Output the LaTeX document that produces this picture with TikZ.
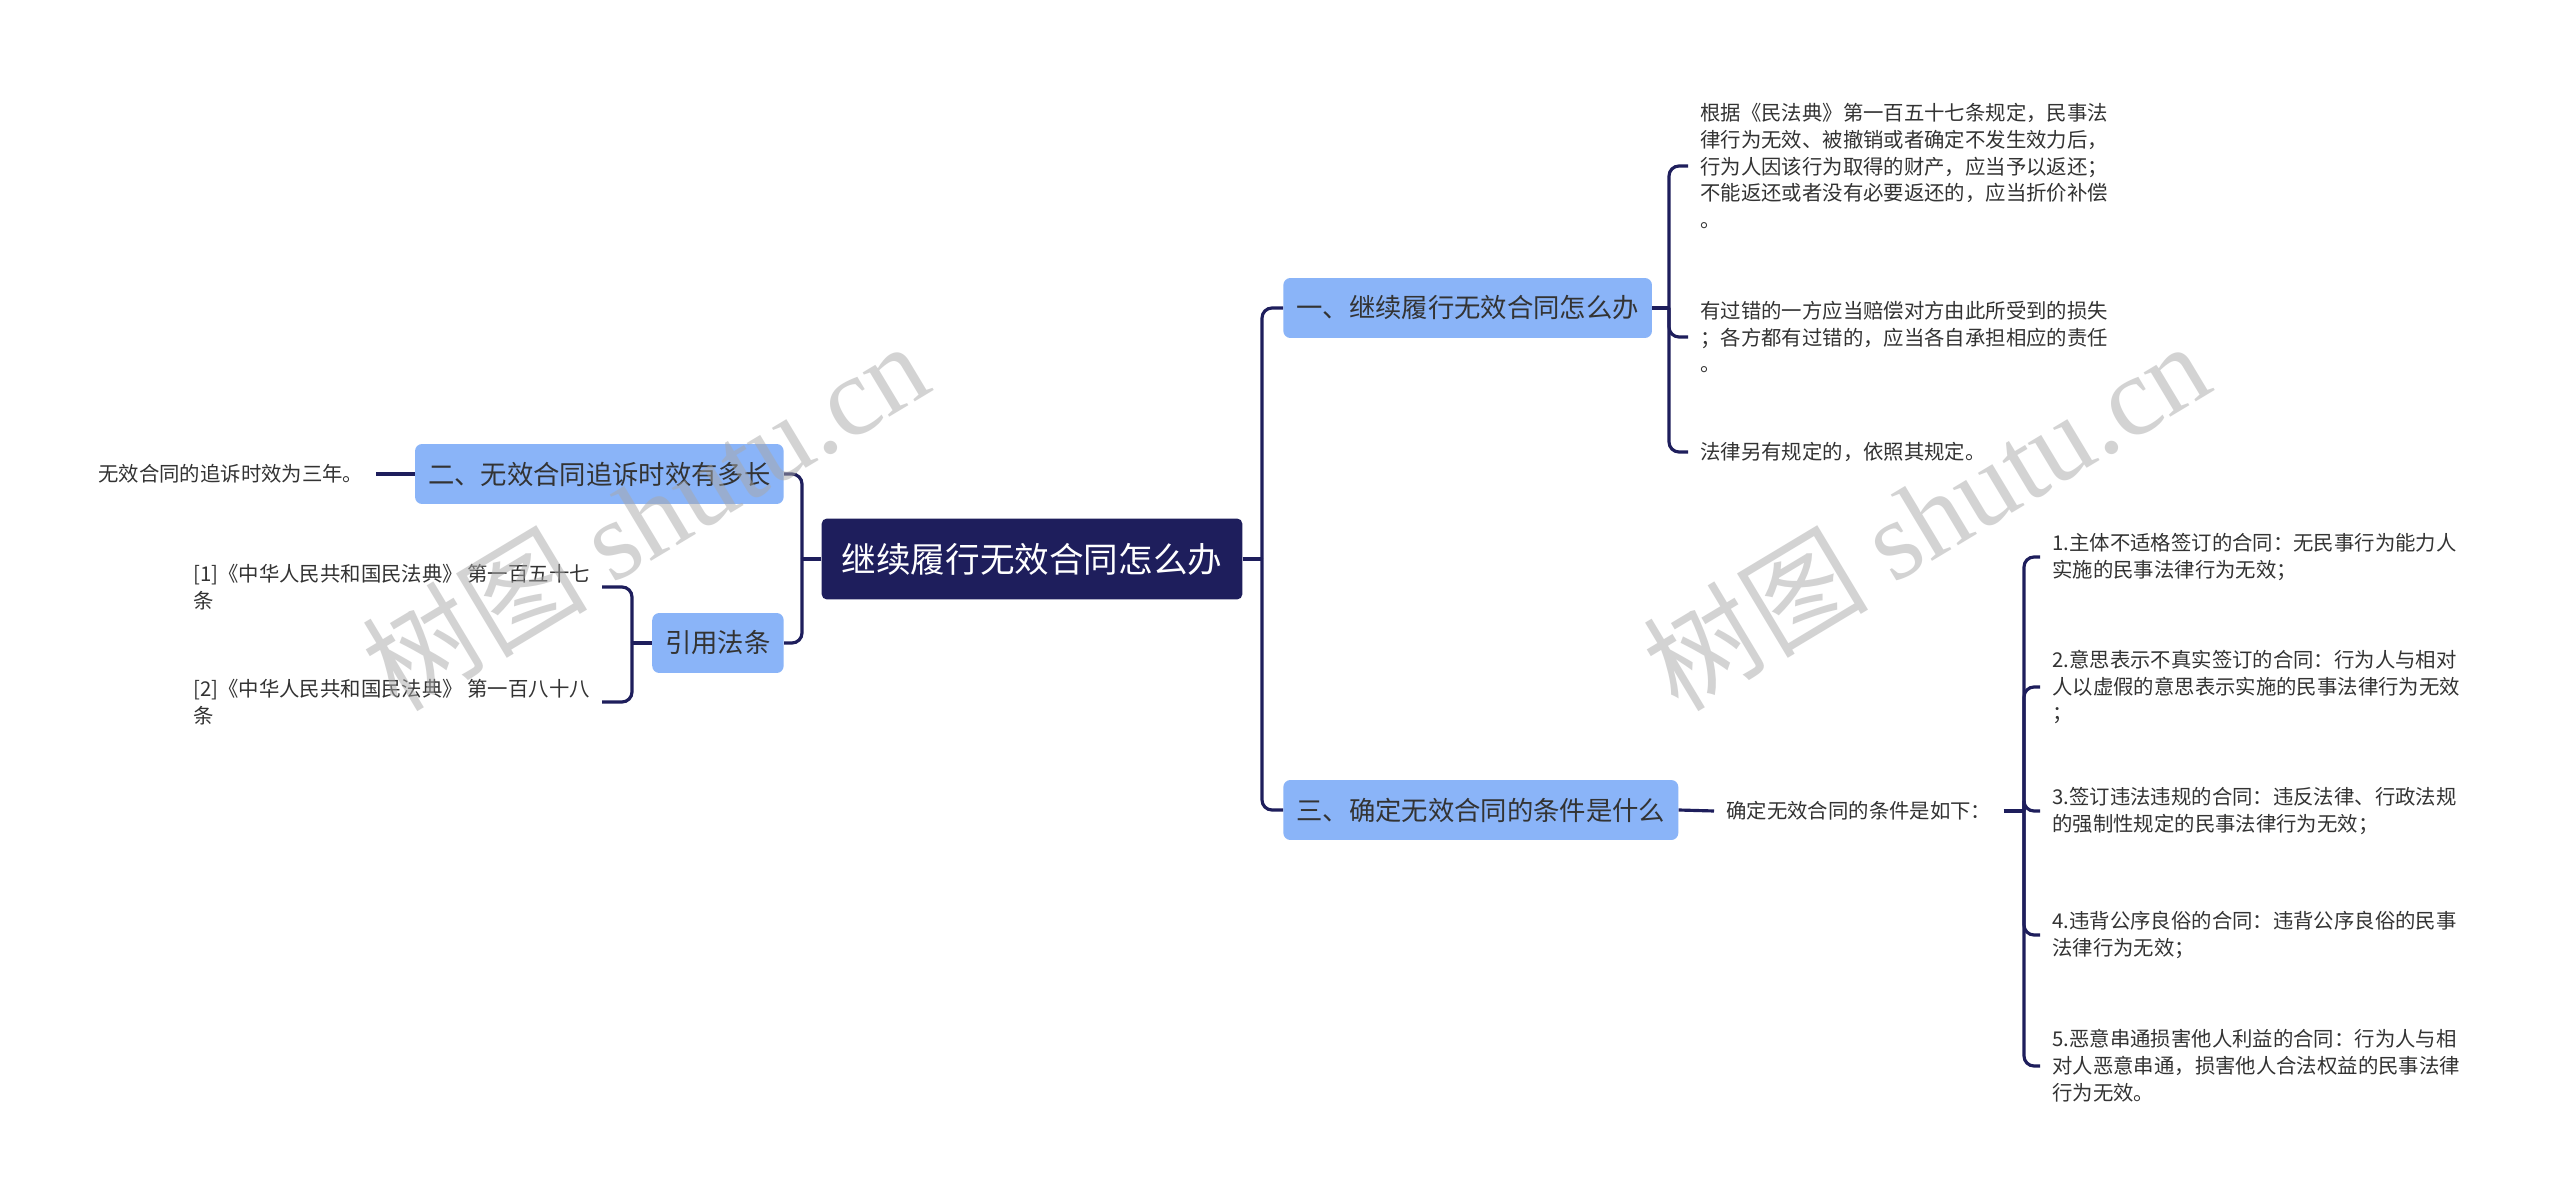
\documentclass[tikz,border=0pt]{standalone}
\usepackage{fontspec}
\usepackage{tikz}
\usepackage{xcolor}
\usetikzlibrary{positioning}
\newfontfamily\cjk{Noto Sans CJK SC}
\newfontfamily\wmserif{Liberation Serif}
\definecolor{navy}{HTML}{1E1E5C}
\definecolor{topicfill}{HTML}{8AB4F8}
\definecolor{darktext}{HTML}{333333}
\definecolor{wmgray}{HTML}{A8A8A8}

\begin{document}
\begin{tikzpicture}[x=0.02cm, y=-0.02cm,
    rootbox/.style={fill=navy, rounded corners=3pt, text=white, font=\cjk\fontsize{19.7pt}{24pt}\selectfont, inner xsep=0.4cm, minimum height=1.62cm},
    topic/.style={fill=topicfill, rounded corners=4pt, text=darktext, font=\cjk\fontsize{15pt}{18pt}\selectfont, inner xsep=0.26cm, minimum height=1.2cm},
    leaf/.style={text=darktext, font=\cjk\fontsize{11.6pt}{15.3pt}\selectfont, align=left, inner xsep=0.24cm, inner ysep=0pt},
    link/.style={navy, line width=1.8pt, rounded corners=0.2cm},
    wmark/.style={text=wmgray, opacity=0.5, rotate=31, font=\cjk\fontsize{64pt}{64pt}\selectfont}
]
    \path[use as bounding box, fill=white] (0,0) rectangle (2560,1202);

    % centre and main branches
    \node[rootbox] (root) at (1032,559) {继续履行无效合同怎么办};
    \node[topic, anchor=west] (one) at (1283,308) {一、继续履行无效合同怎么办};
    \node[topic, anchor=west] (three) at (1283,810) {三、确定无效合同的条件是什么};
    \node[topic, anchor=east] (two) at (784,474) {二、无效合同追诉时效有多长};
    \node[topic, anchor=east] (cite) at (784,643) {引用法条};

    % branch one
    \node[leaf, anchor=west] (oneA) at (1688,166) {根据《民法典》第一百五十七条规定，民事法\\律行为无效、被撤销或者确定不发生效力后，\\行为人因该行为取得的财产，应当予以返还；\\不能返还或者没有必要返还的，应当折价补偿\\。};
    \node[leaf, anchor=west] (oneB) at (1688,337) {有过错的一方应当赔偿对方由此所受到的损失\\；各方都有过错的，应当各自承担相应的责任\\。};
    \node[leaf, anchor=west] (oneC) at (1688,452) {法律另有规定的，依照其规定。};

    % branch two and citations
    \node[leaf, anchor=west] (twoA) at (86,474) {无效合同的追诉时效为三年。};
    \node[leaf, anchor=west] (citeA) at (181,587) {[1]《中华人民共和国民法典》 第一百五十七\\条};
    \node[leaf, anchor=west] (citeB) at (181,702) {[2]《中华人民共和国民法典》 第一百八十八\\条};

    % branch three
    \node[leaf, anchor=west] (cond) at (1714,811) {确定无效合同的条件是如下：};
    \node[leaf, anchor=west] (condA) at (2040,557) {1.主体不适格签订的合同：无民事行为能力人\\实施的民事法律行为无效；};
    \node[leaf, anchor=west] (condB) at (2040,687) {2.意思表示不真实签订的合同：行为人与相对\\人以虚假的意思表示实施的民事法律行为无效\\；};
    \node[leaf, anchor=west] (condC) at (2040,811) {3.签订违法违规的合同：违反法律、行政法规\\的强制性规定的民事法律行为无效；};
    \node[leaf, anchor=west] (condD) at (2040,935) {4.违背公序良俗的合同：违背公序良俗的民事\\法律行为无效；};
    \node[leaf, anchor=west] (condE) at (2040,1066) {5.恶意串通损害他人利益的合同：行为人与相\\对人恶意串通，损害他人合法权益的民事法律\\行为无效。};

    % junctions
    \coordinate (rootR) at (1262,559);
    \coordinate (rootL) at (802,559);
    \coordinate (oneJ) at (1669,308);
    \coordinate (condJ) at (2024,811);
    \coordinate (citeJ) at (632,643);

    % connectors
    \draw[link] (root.east) -- (rootR);
    \draw[link] (rootR) |- (one.west);
    \draw[link] (rootR) |- (three.west);
    \draw[link] (root.west) -- (rootL);
    \draw[link] (rootL) |- (two.east);
    \draw[link] (rootL) |- (cite.east);
    \draw[link] (one.east) -- (oneJ);
    \foreach \n in {oneA, oneB, oneC} {
        \draw[link] (oneJ) |- (\n.west);
    }
    \draw[link] (two.west) -- (twoA.east);
    \draw[link] (cite.west) -- (citeJ);
    \draw[link] (citeJ) |- (citeA.east);
    \draw[link] (citeJ) |- (citeB.east);
    \draw[link] (three.east) -- (cond.west);
    \draw[link] (cond.east) -- (condJ);
    \foreach \n in {condA, condB, condC, condD, condE} {
        \draw[link] (condJ) |- (\n.west);
    }

    % watermarks
    \node[wmark] (wmLeft) at (645,515) {树图 {\wmserif shutu.cn}};
    \node[wmark] (wmRight) at (1926,515) {树图 {\wmserif shutu.cn}};
\end{tikzpicture}
\end{document}
